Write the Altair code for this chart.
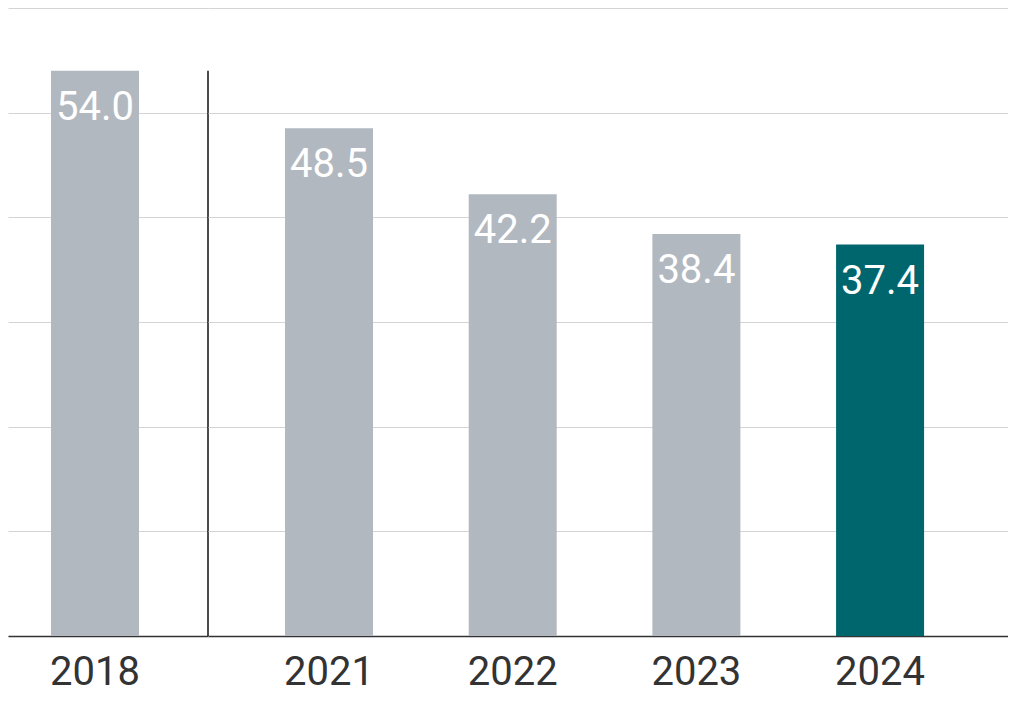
import altair as alt
import pandas as pd

years = ["2018", "2021", "2022", "2023", "2024"]
values = [54.0, 48.5, 42.2, 38.4, 37.4]
highlight_year = "2024"

GRAY = "#b2b8c0"
TEAL = "#00666e"
FONT = "Roboto"

df = pd.DataFrame({"year": years, "value": values})

y_enc = alt.Y(
    "value:Q",
    scale=alt.Scale(domain=[0, 60], nice=False),
    axis=alt.Axis(
        grid=True, gridColor="#d4d4d4", gridWidth=1,
        labels=False, ticks=False, domain=False, title=None,
        values=list(range(0, 61, 10)), minExtent=0, maxExtent=0,
    ),
)

x_axis = alt.Axis(
    title=None, ticks=False, domain=True, domainColor="#333333", domainWidth=1.5,
    labelFont=FONT, labelFontSize=40, labelColor="#333333", labelAngle=0,
    labelBaseline="alphabetic", labelPadding=48,
)

color_cond = alt.condition(
    alt.datum.year == highlight_year, alt.value(TEAL), alt.value(GRAY)
)

H = 628


def panel(sel_years, pad_outer, align):
    base = alt.Chart(df).transform_filter(
        alt.FieldOneOfPredicate(field="year", oneOf=sel_years)
    )
    x_enc = alt.X(
        "year:N", sort=years, axis=x_axis,
        scale=alt.Scale(paddingInner=0, paddingOuter=pad_outer, align=align),
    )
    bars = base.mark_bar(width=88).encode(x=x_enc, y=y_enc, color=color_cond)
    labels = base.mark_text(
        color="white", font=FONT, fontSize=40, baseline="alphabetic", dy=49
    ).encode(x=x_enc, y="value:Q", text=alt.Text("value:Q", format=".1f"))
    return bars, labels, base


lb, ll, lbase = panel(["2018"], 0.1, 0.11)
sep = lbase.mark_rule(color="#111111", strokeWidth=1.5).encode(
    x=alt.value(200), y="value:Q", y2=alt.datum(0)
)
left = alt.layer(lb, ll, sep).properties(width=200, height=H)

rb, rl, _ = panel(["2021", "2022", "2023", "2024"], 0.1776, 0.447)
right = alt.layer(rb, rl).properties(width=800, height=H)

chart = (
    alt.hconcat(left, right, spacing=0, bounds="flush")
    .properties(padding={"left": 0, "top": 0, "right": 0, "bottom": 4})
    .configure_view(stroke=None)
)

chart.save("out.html", embed_options={"renderer": "svg", "actions": False})
